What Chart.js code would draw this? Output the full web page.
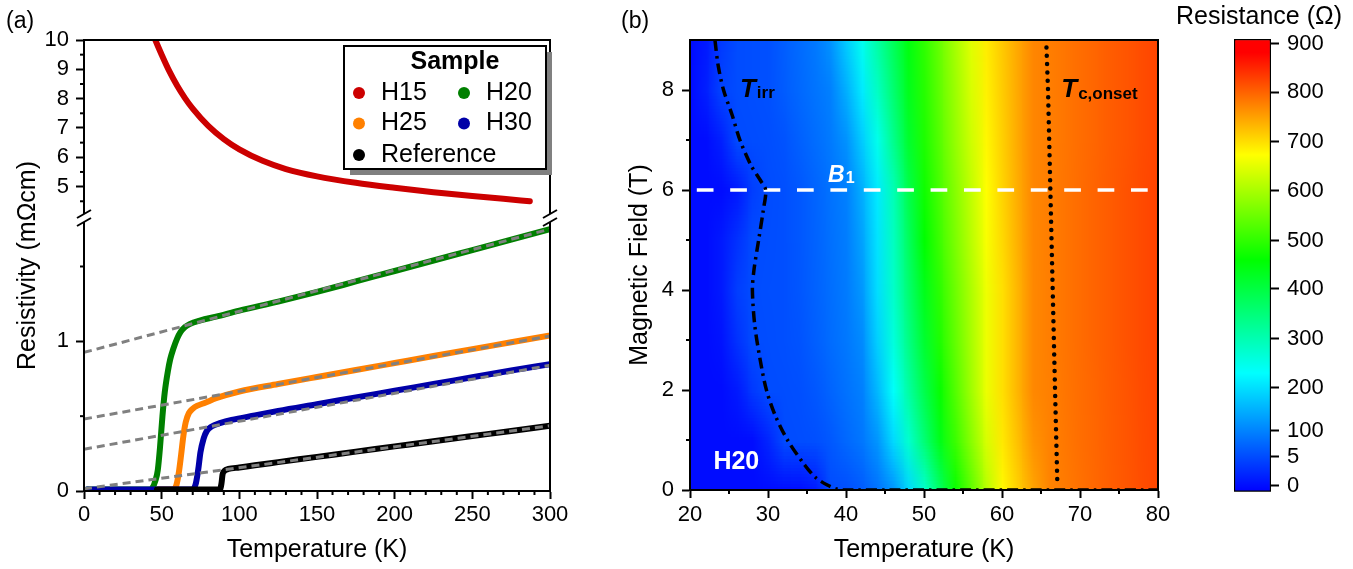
<!DOCTYPE html>
<html>
<head>
<meta charset="utf-8">
<script src="https://cdn.jsdelivr.net/npm/chart.js@4.4.1/dist/chart.umd.min.js"></script>
<style>
  html, body { margin: 0; padding: 0; background: #fff; }
  body { width: 1353px; height: 569px; position: relative; overflow: hidden; }
  canvas { position: absolute; top: 0; }
  #rhoChart { left: 0; }
  #mapChart { left: 600px; }
  #barChart { left: 1165px; }
</style>
</head>
<body>
<canvas id="rhoChart" width="600" height="569"></canvas>
<canvas id="mapChart" width="600" height="569"></canvas>
<canvas id="barChart" width="188" height="569"></canvas>
<script>
      /* ========= Panel (a): resistivity curves ========= */
      const h15T   = [45.5, 50, 55, 60, 65, 70, 80, 90, 100, 115, 130, 150, 175, 200, 225, 250, 270, 287];
      const h15Rho = [10.05, 9.5, 8.93, 8.44, 8.02, 7.66, 7.07, 6.62, 6.27, 5.88, 5.6, 5.35, 5.13, 4.96, 4.81, 4.68, 4.585, 4.5];

      const h20T   = [2, 42, 44, 46, 47.5, 49, 50.5, 52, 54, 55.5, 57.5, 60, 62, 65, 68, 75, 85, 100, 125, 150, 175, 200, 225, 250, 275, 300];
      const h20Rho = [0.01, 0.01, 0.02, 0.07, 0.14, 0.3, 0.5, 0.66, 0.8, 0.88, 0.95, 1.02, 1.06, 1.095, 1.115, 1.14, 1.165, 1.205, 1.265, 1.33, 1.40, 1.47, 1.54, 1.61, 1.68, 1.75];

      const h25T   = [48, 57, 59.5, 61, 62.5, 64, 65.5, 67.5, 70, 73, 78, 85, 100, 125, 150, 175, 200, 225, 250, 275, 300];
      const h25Rho = [0.01, 0.01, 0.04, 0.12, 0.24, 0.37, 0.46, 0.52, 0.55, 0.57, 0.59, 0.62, 0.665, 0.715, 0.762, 0.808, 0.855, 0.902, 0.948, 0.994, 1.04];

      const h30T   = [2, 70, 72, 73.5, 75, 77, 79, 82, 88, 95, 110, 125, 150, 175, 200, 225, 250, 275, 300];
      const h30Rho = [0.01, 0.01, 0.05, 0.14, 0.26, 0.35, 0.40, 0.43, 0.455, 0.475, 0.505, 0.535, 0.58, 0.625, 0.67, 0.715, 0.76, 0.805, 0.847];

      const refT   = [47, 87.5, 88.5, 89.2, 90.5, 93, 100, 110, 125, 150, 175, 200, 225, 250, 275, 300];
      const refRho = [0.01, 0.01, 0.05, 0.11, 0.135, 0.147, 0.157, 0.172, 0.193, 0.228, 0.263, 0.298, 0.333, 0.367, 0.401, 0.436];

      // linear normal-state fits (gray dashed)
      const fitT   = [0, 300];
      const fitH20 = [0.926, 1.75];
      const fitH25 = [0.481, 1.036];
      const fitH30 = [0.279, 0.84];
      const fitRef = [0.015, 0.436];

      const xTicksA     = [0, 50, 100, 150, 200, 250, 300];
      const xMinorA     = [10, 20, 30, 40, 60, 70, 80, 90, 110, 120, 130, 140, 160, 170, 180, 190, 210, 220, 230, 240, 260, 270, 280, 290];
      const rhoTopTicks = [5, 6, 7, 8, 9, 10];
      const rhoTopMinor = [4.5, 5.5, 6.5, 7.5, 8.5, 9.5];
      const rhoBotTicks = [0, 1];
      const rhoBotMinor = [0.5, 1.5];

      /* ========= Panel (b): R(T, B) map of H20 ========= */
      const heatT = [20, 22, 24, 26, 28, 30, 32, 34, 36, 38, 40, 42, 44, 46, 48, 50, 52, 54, 56, 58, 60, 62, 64, 66, 68, 70, 72, 74, 76, 78, 80];
      const heatB = [0, 1, 2, 3, 4, 5, 6, 7, 8, 9];
      const resB0 = [0, 0, 0, 0, 0, 0, 0, 0, 1, 5, 11, 33, 71, 118, 190, 274, 372, 467, 539, 612, 678, 713, 747, 773, 781, 789, 797, 804, 811, 818, 824];
      const resB1 = [0, 0, 0, 0, 0, 2, 5, 9, 12, 27, 54, 80, 119, 193, 272, 355, 439, 509, 575, 640, 691, 726, 761, 775, 783, 791, 798, 805, 812, 819, 825];
      const resB2 = [0, 0, 0, 1, 3.5, 6.5, 9.5, 12.5, 25, 48, 71, 94, 157, 234, 312, 390, 466, 530, 594, 657, 699, 735, 770, 777, 785, 792, 799, 806, 813, 820, 826];
      const resB3 = [0, 0, 0.5, 3, 6, 9, 12, 19, 40, 61, 81, 108, 184, 261, 339, 417, 486, 543, 601, 659, 699, 735, 770, 778, 786, 793, 800, 807, 814, 821, 827];
      const resB4 = [0, 0, 1, 4, 7, 10, 13, 24, 45, 65, 86, 123, 199, 278, 357, 436, 498, 552, 606, 660, 699, 735, 770, 778, 786, 793, 800, 807, 814, 821, 827];
      const resB5 = [0, 0, 1, 3, 6, 9, 12, 25, 46, 68, 89, 135, 205, 286, 373, 460, 512, 564, 616, 668, 704, 739, 771, 778, 786, 793, 800, 807, 814, 821, 827];
      const resB6 = [0, 0, 0, 1, 4, 8, 12, 25, 48, 71, 94, 148, 211, 296, 390, 473, 523, 573, 623, 673, 708, 742, 772, 778, 786, 793, 800, 807, 814, 821, 827];
      const resB7 = [0, 0, 1.5, 5, 8, 11, 19, 41, 62, 84, 116, 179, 247, 332, 417, 485, 534, 584, 633, 679, 712, 744, 772, 778, 785, 792, 799, 806, 812, 819, 825];
      const resB8 = [0, 1.5, 4.4, 7.6, 10.8, 14, 34, 54, 75, 95, 148, 211, 283, 358, 434, 492, 542, 591, 641, 684, 715, 745, 772, 778, 785, 792, 799, 806, 812, 819, 825];
      const resB9 = [0, 1, 3.7, 7.1, 10.6, 14, 37, 60, 83, 116, 179, 244, 311, 379, 446, 500, 549, 599, 648, 688, 717, 746, 772, 778, 785, 792, 799, 806, 812, 819, 825];
      const heatRows = [resB0, resB1, resB2, resB3, resB4, resB5, resB6, resB7, resB8, resB9];

      // irreversibility line, onset line, B1 marker
      const irrT = [23.2, 23.6, 24.3, 25.4, 26.4, 27.8, 29.0, 29.7, 29.4, 28.8, 28.2, 28.0, 28.3, 29.0, 29.8, 30.9, 32.5, 34.7, 36.1, 37.6, 38.8, 40.0, 80.0];
      const irrB = [9.0, 8.5, 8.0, 7.5, 7.0, 6.5, 6.2, 6.0, 5.6, 5.0, 4.4, 4.0, 3.3, 2.6, 2.0, 1.5, 1.0, 0.5, 0.25, 0.1, 0.02, 0.0, 0.0];
      const tcT  = [65.7, 65.9, 66.2, 66.5, 66.8, 67.1];
      const tcB  = [8.85, 8.0, 6.0, 4.0, 2.0, 0.1];
      const b1T  = [20, 80];
      const b1B  = [6, 6];

      const tempTicks  = [20, 30, 40, 50, 60, 70, 80];
      const tempMinor  = [25, 35, 45, 55, 65, 75];
      const fieldTicks = [0, 2, 4, 6, 8];
      const fieldMinor = [1, 3, 5, 7];

      /* ========= Colour scale ========= */
      const cbarValues = [0, 5, 100, 200, 300, 400, 500, 600, 700, 800, 900];
      const cbarPos    = [0.0126, 0.0767, 0.1348, 0.2292, 0.3382, 0.4481, 0.5548, 0.6647, 0.773, 0.882, 0.9896];
      const cmapPos    = [0, 0.262, 0.512, 0.744, 0.97, 1];
      const cmapColors = ["#0000FF", "#00FFFF", "#00FF00", "#FFFF00", "#FF0000", "#FF0000"];

      /* ========= helpers ========= */
      const FONT = "'Liberation Sans', Arial, Helvetica, sans-serif";
      Chart.defaults.font.family = FONT;
      Chart.defaults.font.size = 22;
      Chart.defaults.color = "#000";

      function pts(xs, ys) { return xs.map((x, i) => ({ x, y: ys[i] })); }
      function setTicks(values) { return (scale) => { scale.ticks = values.map((v) => ({ value: v })); }; }
      function interp(v, xs, ys) {
        if (v <= xs[0]) return ys[0];
        for (let i = 1; i < xs.length; i++) {
          if (v <= xs[i]) return ys[i - 1] + (v - xs[i - 1]) * (ys[i] - ys[i - 1]) / (xs[i] - xs[i - 1]);
        }
        return ys[ys.length - 1];
      }
      function hexRgb(h) { const n = parseInt(h.slice(1), 16); return [(n >> 16) & 255, (n >> 8) & 255, n & 255]; }
      function cmapColor(f) {
        f = Math.min(1, Math.max(0, f));
        for (let i = 1; i < cmapPos.length; i++) {
          if (f <= cmapPos[i]) {
            const t = (f - cmapPos[i - 1]) / (cmapPos[i] - cmapPos[i - 1]);
            const a = hexRgb(cmapColors[i - 1]), b = hexRgb(cmapColors[i]);
            return a.map((c, k) => Math.round(c + (b[k] - c) * t));
          }
        }
        return hexRgb(cmapColors[cmapColors.length - 1]);
      }
      function resColor(r) { return cmapColor(interp(r, cbarValues, cbarPos)); }

      const gridOpts = { drawOnChartArea: false, drawTicks: true, tickLength: 8, tickWidth: 2, tickColor: "#000" };
      const borderOpts = { display: true, color: "#000", width: 2 };

      /* ========= plugins ========= */
      const minorTicks = {
        id: "minorTicks",
        afterDraw(chart, args, opts) {
          const { ctx } = chart;
          ctx.save();
          ctx.strokeStyle = "#000";
          ctx.lineWidth = 2;
          (opts.list || []).forEach(({ axis, values }) => {
            const s = chart.scales[axis];
            values.forEach((v) => {
              ctx.beginPath();
              if (s.isHorizontal()) {
                const px = s.getPixelForValue(v);
                ctx.moveTo(px, s.top); ctx.lineTo(px, s.top + 4);
              } else {
                const py = s.getPixelForValue(v);
                ctx.moveTo(s.right, py); ctx.lineTo(s.right - 4, py);
              }
              ctx.stroke();
            });
          });
          ctx.restore();
        }
      };

      const panelLabel = {
        id: "panelLabel",
        afterDraw(chart, args, opts) {
          const { ctx } = chart;
          ctx.save();
          ctx.font = `23px ${FONT}`;
          ctx.fillStyle = "#000";
          ctx.textBaseline = "middle";
          ctx.fillText(opts.text, opts.x, 22);
          ctx.restore();
        }
      };

      // frame with the "//" axis break
      const breakFrame = {
        id: "breakFrame",
        afterDatasetsDraw(chart) {
          const { ctx, chartArea: a } = chart;
          const yb = chart.scales.yBot.top;
          ctx.save();
          ctx.strokeStyle = "#000";
          ctx.lineWidth = 2;
          ctx.strokeRect(a.left, a.top, a.right - a.left, a.bottom - a.top);
          [a.left, a.right].forEach((x) => {
            ctx.fillStyle = "#fff";
            ctx.fillRect(x - 3, yb - 4, 6, 8);
            ctx.beginPath();
            [-4, 4].forEach((o) => { ctx.moveTo(x - 7, yb + o + 4); ctx.lineTo(x + 7, yb + o - 4); });
            ctx.stroke();
          });
          ctx.restore();
        }
      };

      const legendLayout = [["H15", 0, 0], ["H20", 1, 0], ["H25", 0, 1], ["H30", 1, 1], ["Reference", 0, 2]];
      const sampleLegend = {
        id: "sampleLegend",
        afterDatasetsDraw(chart) {
          const { ctx } = chart;
          const bx = 344, by = 46, bw = 202, bh = 123;
          ctx.save();
          ctx.fillStyle = "#808080";
          ctx.fillRect(bx + 6, by + 6, bw, bh);
          ctx.fillStyle = "#fff";
          ctx.fillRect(bx, by, bw, bh);
          ctx.strokeStyle = "#000";
          ctx.lineWidth = 2;
          ctx.strokeRect(bx, by, bw, bh);
          ctx.fillStyle = "#000";
          ctx.textBaseline = "middle";
          ctx.textAlign = "center";
          ctx.font = `bold 25px ${FONT}`;
          ctx.fillText("Sample", 455, 62);
          ctx.textAlign = "left";
          ctx.font = `25px ${FONT}`;
          legendLayout.forEach(([label, col, row]) => {
            const ds = chart.data.datasets.find((d) => d.label === label);
            const cx = [359, 464][col], cy = [93, 123.5, 155][row];
            ctx.fillStyle = ds.borderColor;
            ctx.beginPath(); ctx.arc(cx, cy, 6, 0, Math.PI * 2); ctx.fill();
            ctx.fillStyle = "#000";
            ctx.fillText(label, cx + 22, cy);
          });
          ctx.restore();
        }
      };

      const heatmap = {
        id: "heatmap",
        beforeDatasetsDraw(chart) {
          const { ctx, chartArea: a, scales: { x, y } } = chart;
          const nx = heatT.length, ny = heatB.length;
          const off = document.createElement("canvas");
          off.width = nx; off.height = ny;
          const octx = off.getContext("2d");
          const img = octx.createImageData(nx, ny);
          heatRows.forEach((row, j) => row.forEach((r, i) => {
            const c = resColor(r);
            const k = ((ny - 1 - j) * nx + i) * 4;
            img.data[k] = c[0]; img.data[k + 1] = c[1]; img.data[k + 2] = c[2]; img.data[k + 3] = 255;
          }));
          octx.putImageData(img, 0, 0);
          const dT = heatT[1] - heatT[0], dB = heatB[1] - heatB[0];
          const left = x.getPixelForValue(heatT[0] - dT / 2), right = x.getPixelForValue(heatT[nx - 1] + dT / 2);
          const top = y.getPixelForValue(heatB[ny - 1] + dB / 2), bottom = y.getPixelForValue(heatB[0] - dB / 2);
          ctx.save();
          ctx.beginPath(); ctx.rect(a.left, a.top, a.right - a.left, a.bottom - a.top); ctx.clip();
          ctx.imageSmoothingEnabled = true;
          ctx.drawImage(off, left, top, right - left, bottom - top);
          ctx.restore();
        }
      };

      function subText(ctx, x, y, main, sub, mainFont, subFont, drop) {
        ctx.font = mainFont;
        ctx.fillText(main, x, y);
        const w = ctx.measureText(main).width;
        ctx.font = subFont;
        ctx.fillText(sub, x + w + 1, y + drop);
      }

      const mapLabels = {
        id: "mapLabels",
        afterDatasetsDraw(chart) {
          const { ctx, chartArea: a, scales: { x, y } } = chart;
          ctx.save();
          ctx.strokeStyle = "#000";
          ctx.lineWidth = 2;
          ctx.strokeRect(a.left, a.top, a.right - a.left, a.bottom - a.top);
          ctx.textBaseline = "alphabetic";
          ctx.fillStyle = "#000";
          subText(ctx, x.getPixelForValue(26.4), y.getPixelForValue(7.86), "T", "irr",
            `italic bold 26px ${FONT}`, `bold 17px ${FONT}`, 1);
          subText(ctx, x.getPixelForValue(67.6), y.getPixelForValue(7.86), "T", "c,onset",
            `italic bold 26px ${FONT}`, `bold 17px ${FONT}`, 1.5);
          ctx.fillStyle = "#fff";
          subText(ctx, x.getPixelForValue(37.7), y.getPixelForValue(6.17), "B", "1",
            `italic bold 23px ${FONT}`, `bold 16px ${FONT}`, 1.6);
          ctx.font = `bold 25px ${FONT}`;
          ctx.fillText("H20", x.getPixelForValue(23.0), y.getPixelForValue(0.43));
          ctx.restore();
        }
      };

      /* ========= Chart (a) ========= */
      const curve = (label, xs, ys, color, order) => ({
        label, data: pts(xs, ys), yAxisID: "yBot", borderColor: color, backgroundColor: color,
        borderWidth: 6, pointRadius: 0, cubicInterpolationMode: "monotone",
        borderCapStyle: "round", borderJoinStyle: "round", clip: 0, order
      });
      const fitLine = (label, ys) => ({
        label, data: pts(fitT, ys), yAxisID: "yBot", borderColor: "#808080",
        borderWidth: 3, borderDash: [8, 5], pointRadius: 0, clip: 0, order: 0
      });

      const rhoChart = new Chart(document.getElementById("rhoChart"), {
        type: "line",
        data: {
          datasets: [
            Object.assign(curve("H15", h15T, h15Rho, "#CC0000", 5), { yAxisID: "yTop" }),
            curve("H20", h20T, h20Rho, "#008000", 4),
            curve("H25", h25T, h25Rho, "#FF8000", 3),
            curve("H30", h30T, h30Rho, "#0000A8", 2),
            curve("Reference", refT, refRho, "#000000", 1),
            fitLine("fit H20", fitH20),
            fitLine("fit H25", fitH25),
            fitLine("fit H30", fitH30),
            fitLine("fit Reference", fitRef)
          ]
        },
        options: {
          responsive: false,
          animation: false,
          events: [],
          layout: { padding: { left: 0, top: 40, right: 50, bottom: 0 } },
          plugins: {
            legend: { display: false },
            tooltip: { enabled: false },
            minorTicks: { list: [
              { axis: "x", values: xMinorA },
              { axis: "yTop", values: rhoTopMinor },
              { axis: "yBot", values: rhoBotMinor }
            ] },
            panelLabel: { text: "(a)", x: 6 }
          },
          scales: {
            x: {
              type: "linear", position: "bottom", min: 0, max: 300,
              afterBuildTicks: setTicks(xTicksA),
              afterFit: (s) => { s.height = 78; },
              ticks: { padding: 3, autoSkip: false, maxRotation: 0 },
              grid: gridOpts, border: borderOpts,
              title: { display: true, text: "Temperature (K)", font: { size: 25 }, padding: { top: 0, bottom: 4 } }
            },
            yTitle: {
              type: "linear", position: "left", weight: 10,
              grid: { display: false }, border: { display: false }, ticks: { display: false },
              afterFit: (s) => { s.width = 43; },
              title: { display: true, text: "Resistivity (mΩcm)", font: { size: 25 }, padding: { top: 13, bottom: 0 } }
            },
            yTop: {
              type: "linear", position: "left", stack: "rho", stackWeight: 178, weight: 1,
              min: 3.93, max: 10,
              afterBuildTicks: setTicks(rhoTopTicks),
              afterFit: (s) => { s.width = 41; },
              ticks: { padding: 7, autoSkip: false },
              grid: gridOpts, border: borderOpts
            },
            yBot: {
              type: "linear", position: "left", stack: "rho", stackWeight: 273, weight: 0,
              min: 0, max: 1.824,
              afterBuildTicks: setTicks(rhoBotTicks),
              afterFit: (s) => { s.width = 41; },
              ticks: { padding: 7, autoSkip: false },
              grid: gridOpts, border: borderOpts
            }
          }
        },
        plugins: [breakFrame, sampleLegend, minorTicks, panelLabel]
      });

      /* ========= Chart (b) ========= */
      const mapChart = new Chart(document.getElementById("mapChart"), {
        type: "line",
        data: {
          datasets: [
            { label: "B1", data: pts(b1T, b1B), yAxisID: "y", borderColor: "#FFFFFF", borderWidth: 3.5,
              borderDash: [16.7, 16.7], borderDashOffset: 26.6, pointRadius: 0, order: 2 },
            { label: "T_irr", data: pts(irrT, irrB), yAxisID: "y", borderColor: "#000000", borderWidth: 3.5,
              borderDash: [11, 5, 2.5, 5], tension: 0.3, pointRadius: 0, order: 1 },
            { label: "T_c,onset", data: pts(tcT, tcB), yAxisID: "y", borderColor: "#000000", borderWidth: 4.5,
              borderDash: [0, 8.3], borderCapStyle: "round", pointRadius: 0, order: 0 }
          ]
        },
        options: {
          responsive: false,
          animation: false,
          events: [],
          layout: { padding: { left: 0, top: 40, right: 42, bottom: 0 } },
          plugins: {
            legend: { display: false },
            tooltip: { enabled: false },
            minorTicks: { list: [
              { axis: "x", values: tempMinor },
              { axis: "y", values: fieldMinor }
            ] },
            panelLabel: { text: "(b)", x: 21 }
          },
          scales: {
            x: {
              type: "linear", position: "bottom", min: 20, max: 80,
              afterBuildTicks: setTicks(tempTicks),
              afterFit: (s) => { s.height = 79; },
              ticks: { padding: 4, autoSkip: false, maxRotation: 0 },
              grid: gridOpts, border: borderOpts,
              title: { display: true, text: "Temperature (K)", font: { size: 25 }, padding: { top: 0, bottom: 4 } }
            },
            y: {
              type: "linear", position: "left", min: 0, max: 9,
              afterBuildTicks: setTicks(fieldTicks),
              afterFit: (s) => { s.width = 90; },
              ticks: { padding: 8, autoSkip: false },
              grid: gridOpts, border: borderOpts,
              title: { display: true, text: "Magnetic Field (T)", font: { size: 25 }, padding: { top: 25, bottom: 0 } }
            }
          }
        },
        plugins: [heatmap, mapLabels, minorTicks, panelLabel]
      });

      /* ========= Colour bar ========= */
      const barChart = new Chart(document.getElementById("barChart"), {
        type: "bar",
        data: {
          labels: ["R"],
          datasets: [{
            data: [[0, 1]],
            yAxisID: "y",
            backgroundColor: (c) => {
              const a = c.chart.chartArea;
              if (!a) return "#00FF00";
              const g = c.chart.ctx.createLinearGradient(0, a.bottom, 0, a.top);
              cmapPos.forEach((p, i) => g.addColorStop(p, cmapColors[i]));
              return g;
            },
            borderColor: "#000",
            borderWidth: 1.5,
            borderSkipped: false,
            barPercentage: 1,
            categoryPercentage: 1
          }]
        },
        options: {
          responsive: false,
          animation: false,
          events: [],
          layout: { padding: { left: 0, top: 0, right: 0, bottom: 77.3 } },
          plugins: {
            legend: { display: false },
            tooltip: { enabled: false },
            title: { display: true, text: "Resistance (Ω)", color: "#000",
                     font: { size: 25, weight: "normal" }, padding: { top: 2, bottom: 7 } }
          },
          scales: {
            x: { display: false },
            y: {
              type: "linear", position: "right", min: 0, max: 1,
              afterBuildTicks: setTicks(cbarPos),
              afterFit: (s) => { s.width = 82; },
              ticks: { padding: 8, autoSkip: false, callback: (v, i) => cbarValues[i] },
              grid: gridOpts, border: { display: false }
            },
            pad: {
              type: "linear", position: "left",
              grid: { display: false }, border: { display: false }, ticks: { display: false },
              afterFit: (s) => { s.width = 69; }
            }
          }
        }
      });
</script>
</body>
</html>
